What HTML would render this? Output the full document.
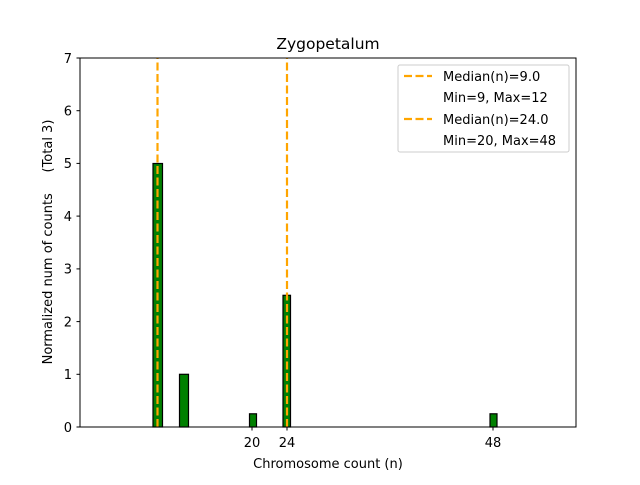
<!DOCTYPE html>
<html><head><style>body{margin:0;background:#fff}</style></head><body>
<svg width="640" height="480" xmlns="http://www.w3.org/2000/svg" font-family="DejaVu Sans, Liberation Sans, sans-serif">
<rect width="640" height="480" fill="#fff"/>
<line x1="80" y1="427" x2="213" y2="427" stroke="#999" stroke-width="1"/>
<g fill="green" stroke="#000" stroke-width="1.2">
<rect x="153" y="163.5" width="9.5" height="263.5"/>
<rect x="179.5" y="374.3" width="9" height="52.7"/>
<rect x="249.5" y="413.8" width="7" height="13.2"/>
<rect x="283" y="295.3" width="7.5" height="131.7"/>
<rect x="490" y="413.8" width="7" height="13.2"/>
</g>
<g stroke="#FFA500" stroke-width="2.2" stroke-dasharray="8,3.5">
<line x1="157.5" y1="427" x2="157.5" y2="58"/>
<line x1="287" y1="427" x2="287" y2="58"/>
</g>
<rect x="80" y="58" width="496" height="369" fill="none" stroke="#000" stroke-width="1"/>
<g stroke="#000">
<line x1="80" y1="427" x2="76.5" y2="427"/><line x1="80" y1="374.3" x2="76.5" y2="374.3"/>
<line x1="80" y1="321.6" x2="76.5" y2="321.6"/><line x1="80" y1="268.9" x2="76.5" y2="268.9"/>
<line x1="80" y1="216.1" x2="76.5" y2="216.1"/><line x1="80" y1="163.4" x2="76.5" y2="163.4"/>
<line x1="80" y1="110.7" x2="76.5" y2="110.7"/><line x1="80" y1="58" x2="76.5" y2="58"/>
<line x1="252" y1="427" x2="252" y2="430.5"/><line x1="287" y1="427" x2="287" y2="430.5"/>
<line x1="493" y1="427" x2="493" y2="430.5"/>
</g>
<g font-size="13" fill="#000" text-anchor="end">
<text x="72" y="432">0</text><text x="72" y="379">1</text><text x="72" y="326.5">2</text>
<text x="72" y="273.5">3</text><text x="72" y="221">4</text><text x="72" y="168">5</text>
<text x="72" y="115.5">6</text><text x="72" y="63">7</text>
</g>
<g font-size="13" fill="#000" text-anchor="middle">
<text x="252" y="447">20</text><text x="287" y="447">24</text><text x="493" y="447">48</text>
<text x="328" y="468">Chromosome count (n)</text>
</g>
<text x="0" y="0" font-size="13" text-anchor="middle" xml:space="preserve" transform="translate(52,242) rotate(-90)">Normalized num of counts     (Total 3)</text>
<text x="328" y="49" font-size="15.5" text-anchor="middle">Zygopetalum</text>
<rect x="398" y="65" width="171" height="87" rx="2" fill="#fff" fill-opacity="0.8" stroke="#ccc"/>
<g stroke="#FFA500" stroke-width="2.2" stroke-dasharray="8,3.5">
<line x1="404" y1="76" x2="432" y2="76"/><line x1="404" y1="119" x2="432" y2="119"/>
</g>
<g font-size="13" fill="#000">
<text x="443" y="81">Median(n)=9.0</text>
<text x="443" y="102">Min=9, Max=12</text>
<text x="443" y="124">Median(n)=24.0</text>
<text x="443" y="145">Min=20, Max=48</text>
</g>
</svg>
</body></html>
